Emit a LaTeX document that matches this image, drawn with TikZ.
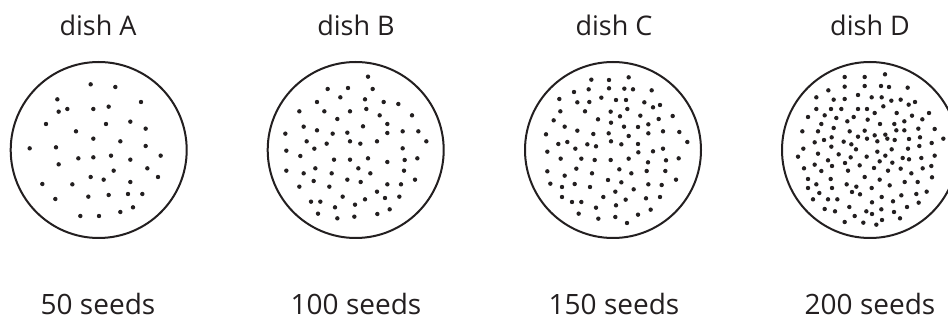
\documentclass[tikz,border=0pt]{standalone}
\usepackage{fontspec}
\setmainfont{Open Sans}
\definecolor{ink}{HTML}{231F20}
\begin{document}
\begin{tikzpicture}[x=1pt,y=-1pt,
 dish/.style={draw=ink,line width=2pt,circle,minimum size=176pt,inner sep=0pt},
 lbl/.style={text=ink,anchor=base,inner sep=0pt,font=\fontsize{27}{30}\selectfont},
 cnt/.style={lbl,font=\fontsize{28}{32}\selectfont},
 seed/.style={fill=ink}]
\useasboundingbox[fill=white] (0,0) rectangle (948,320);
% dishes
\node[dish] (dA) at (98.7,150) {};
\node[dish] (dB) at (355.7,150) {};
\node[dish] (dC) at (613,150) {};
\node[dish] (dD) at (870,150) {};
% labels
\node[lbl] (tA) at (98,36) {dish A};
\node[lbl] (tB) at (356,36) {dish B};
\node[lbl] (tC) at (614,36) {dish C};
\node[lbl] (tD) at (870,36) {dish D};
\node[cnt] (sA) at (98,315) {50 seeds};
\node[cnt] (sB) at (356,315) {100 seeds};
\node[cnt] (sC) at (614,315) {150 seeds};
\node[cnt] (sD) at (870,315) {200 seeds};
% dish A seeds
\foreach \a/\b in {272/253,346/261,172/298,423/306,176/335,202/327,280/327,326/320,138/372,318/372,391/365,437/386,228/394,280/416,361/424,89/445,168/442,437/438,482/467,235/475,280/472,333/467,391/479,176/493,442/505,341/512,272/531,311/539,474/531,127/552,217/553,391/546,166/597,265/590,326/585,384/582,427/582,399/622,361/636,241/648,297/648}
  \fill[seed] ({\a/3},{\b/3}) circle[radius=2.2pt];
% dish B seeds
\foreach \a/\b in {384/230,263/267,324/264,398/267,301/292,375/298,231/306,431/306,475/312,178/334,253/334,330/334,379/327,419/346,516/346,292/357,191/380,369/379,442/372,231/391,278/401,322/398,442/399,488/394,535/394,136/401,200/424,260/431,330/424,361/431,411/424,559/424,223/446,488/445,139/452,181/468,282/479,330/479,384/475,442/486,494/480,532/475,139/512,191/520,226/505,275/520,355/505,391/520,492/512,322/539,362/546,221/543,525/539,178/560,268/560,442/553,483/553,411/575,308/590,375/598,435/594,478/590,213/605,241/605,345/614,285/622,449/628,234/641,412/642,292/655,343/650}
  \fill[seed] ({240+\a/3},{\b/3}) circle[radius=2.2pt];
% dish C seeds
\foreach \a/\b in {334/239,387/240,446/232,282/276,326/268,387/265,433/266,459/268,515/271,238/297,292/307,328/306,364/293,408/300,438/300,493/307,519/322,540/315,241/334,315/334,392/335,442/327,420/349,481/347,536/357,578/348,221/361,354/358,393/368,505/373,254/380,432/380,474/381,198/403,292/392,340/402,386/400,446/408,505/400,549/394,598/396,235/432,262/426,322/433,348/439,393/424,424/433,474/432,622/426,202/455,286/446,475/457,519/454,549/446,242/476,304/476,344/480,392/480,446/476,504/487,558/481,596/475,289/506,418/508,500/513,556/513,202/514,254/527,336/520,454/520,384/540,424/547,588/539,211/551,246/561,284/552,330/561,505/553,545/555,406/575,461/568,246/591,370/591,498/595,540/591,276/606,304/606,437/599,348/623,408/616,512/629,296/641,474/644,355/656,406/651,441/669}
  \fill[seed] ({480+\a/3},{\b/3}) circle[radius=2.2pt];
% dish D seeds
\foreach \a/\b in {410/231,470/231,531/223,361/271,410/260,470/258,519/258,543/261,599/263,325/292,377/299,410/297,450/285,491/292,521/292,550/302,578/299,602/314,621/306,325/327,369/327,400/327,450/327,477/327,526/319,300/351,350/346,385/354,418/364,437/351,479/359,500/339,566/339,612/347,643/358,663/339,340/372,377/384,516/372,559/372,589/364,631/386,283/394,330/394,425/394,470/392,500/406,532/404,565/391,589/391,680/387,320/427,348/420,371/412,407/425,450/410,477/416,508/424,538/416,560/420,603/417,636/412,706/416,286/446,370/440,430/433,444/448,508/455,551/448,600/446,634/438,671/429,270/470,330/461,392/463,428/472,476/470,515/484,532/467,584/474,640/474,680/467,360/481,411/489,455/496,553/488,603/478,288/505,320/494,372/498,498/504,540/512,578/506,610/520,644/505,670/498,340/513,420/512,300/537,368/537,470/531,515/539,590/546,629/546,672/532,325/553,416/553,445/560,491/564,545/556,300/564,372/564,432/576,456/583,521/591,580/586,625/582,656/575,334/579,315/598,360/598,388/598,492/607,555/604,632/608,424/621,597/621,350/627,381/634,475/634,520/628,440/648,492/642,558/636,410/666,466/668,505/674,522/660,576/655}
  \fill[seed] ({708+\a/3},{\b/3}) circle[radius=2.2pt];
\end{tikzpicture}
\end{document}
